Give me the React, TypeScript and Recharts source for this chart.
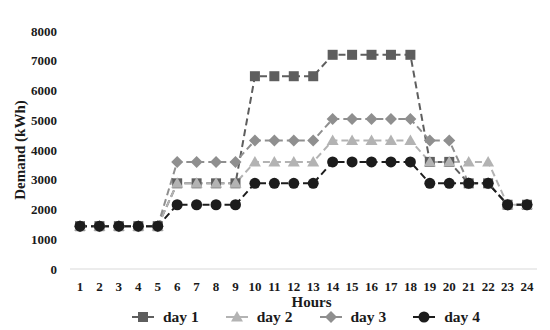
import { CartesianGrid, Legend, Line, LineChart, XAxis, YAxis } from "recharts";

const hours = [
  "1", "2", "3", "4", "5", "6", "7", "8", "9", "10", "11", "12",
  "13", "14", "15", "16", "17", "18", "19", "20", "21", "22", "23", "24",
];

const day1 = [
  1440, 1440, 1440, 1440, 1440, 2880, 2880, 2880, 2880, 6480, 6480, 6480,
  6480, 7200, 7200, 7200, 7200, 7200, 3600, 3600, 2880, 2880, 2160, 2160,
];
const day2 = [
  1440, 1440, 1440, 1440, 1440, 2880, 2880, 2880, 2880, 3600, 3600, 3600,
  3600, 4320, 4320, 4320, 4320, 4320, 3600, 3600, 3600, 3600, 2160, 2160,
];
const day3 = [
  1440, 1440, 1440, 1440, 1440, 3600, 3600, 3600, 3600, 4320, 4320, 4320,
  4320, 5040, 5040, 5040, 5040, 5040, 4320, 4320, 2880, 2880, 2160, 2160,
];
const day4 = [
  1440, 1440, 1440, 1440, 1440, 2160, 2160, 2160, 2160, 2880, 2880, 2880,
  2880, 3600, 3600, 3600, 3600, 3600, 2880, 2880, 2880, 2880, 2160, 2160,
];

const yTicks = [0, 1000, 2000, 3000, 4000, 5000, 6000, 7000, 8000];

const series = [
  { key: "day1", name: "day 1", color: "#5e5e5e", shape: "square" },
  { key: "day2", name: "day 2", color: "#b3b3b3", shape: "triangle" },
  { key: "day3", name: "day 3", color: "#8f8f8f", shape: "diamond" },
  { key: "day4", name: "day 4", color: "#1c1c1c", shape: "circle" },
];

const data = hours.map((h, i) => ({
  hour: h,
  day1: day1[i],
  day2: day2[i],
  day3: day3[i],
  day4: day4[i],
}));

const FONT = "'Liberation Serif', 'Times New Roman', serif";

function Marker({ cx, cy, shape, color }: any) {
  if (cx == null || cy == null) return null;
  if (shape === "square") {
    return <rect x={cx - 5} y={cy - 5} width={10} height={10} fill={color} />;
  }
  if (shape === "triangle") {
    return (
      <polygon
        points={`${cx},${cy - 6} ${cx + 6},${cy + 4.5} ${cx - 6},${cy + 4.5}`}
        fill={color}
      />
    );
  }
  if (shape === "diamond") {
    return (
      <polygon
        points={`${cx},${cy - 6} ${cx + 6},${cy} ${cx},${cy + 6} ${cx - 6},${cy}`}
        fill={color}
      />
    );
  }
  return <circle cx={cx} cy={cy} r={5.5} fill={color} />;
}

function LegendContent() {
  return (
    <div
      style={{
        display: "flex",
        height: 22,
        alignItems: "center",
        paddingLeft: 124,
        fontFamily: FONT,
        fontWeight: "bold",
        fontSize: 15.5,
        color: "#1a1a1a",
      }}
    >
      {series.map((s) => (
        <div
          key={s.key}
          style={{ display: "flex", alignItems: "center", marginRight: 27 }}
        >
          <svg width={22} height={12} style={{ marginRight: 9 }}>
            <line x1={0} y1={6} x2={22} y2={6} stroke={s.color} strokeWidth={2} />
            <Marker cx={11} cy={6} shape={s.shape} color={s.color} />
          </svg>
          <span>{s.name}</span>
        </div>
      ))}
    </div>
  );
}

export default function App() {
  return (
    <LineChart
      width={542}
      height={322}
      data={data}
      margin={{ top: 23, right: 13, left: 0, bottom: 2 }}
    >
      <CartesianGrid horizontal={false} vertical={false} />
      <XAxis
        dataKey="hour"
        height={37}
        padding={{ left: 10, right: 10 }}
        axisLine={{ stroke: "#d9d9d9" }}
        tickLine={false}
        tickMargin={7}
        interval={0}
        tick={{ fontFamily: FONT, fontWeight: "bold", fontSize: 13, fill: "#1a1a1a" }}
        label={{
          value: "Hours",
          position: "insideBottom",
          offset: -1,
          dx: 8,
          style: {
            fontFamily: FONT,
            fontWeight: "bold",
            fontSize: 15,
            fill: "#1a1a1a",
          },
        }}
      />
      <YAxis
        width={62}
        domain={[0, 8000]}
        ticks={yTicks}
        axisLine={false}
        tickLine={false}
        tickMargin={7}
        tick={{ fontFamily: FONT, fontWeight: "bold", fontSize: 13, fill: "#1a1a1a" }}
        label={{
          value: "Demand (kWh)",
          angle: -90,
          position: "insideLeft",
          offset: 12,
          style: {
            textAnchor: "middle",
            fontFamily: FONT,
            fontWeight: "bold",
            fontSize: 15,
            fill: "#1a1a1a",
          },
        }}
      />
      <Legend
        verticalAlign="bottom"
        content={<LegendContent />}
        wrapperStyle={{ left: 0, width: 542 }}
      />
      {series.map((s) => (
        <Line
          key={s.key}
          dataKey={s.key}
          name={s.name}
          type="linear"
          stroke={s.color}
          strokeWidth={2}
          strokeDasharray="7 4"
          isAnimationActive={false}
          dot={(p: any) => (
            <Marker
              key={`${s.key}-${p.index}`}
              cx={p.cx}
              cy={p.cy}
              shape={s.shape}
              color={s.color}
            />
          )}
          activeDot={false}
        />
      ))}
    </LineChart>
  );
}
